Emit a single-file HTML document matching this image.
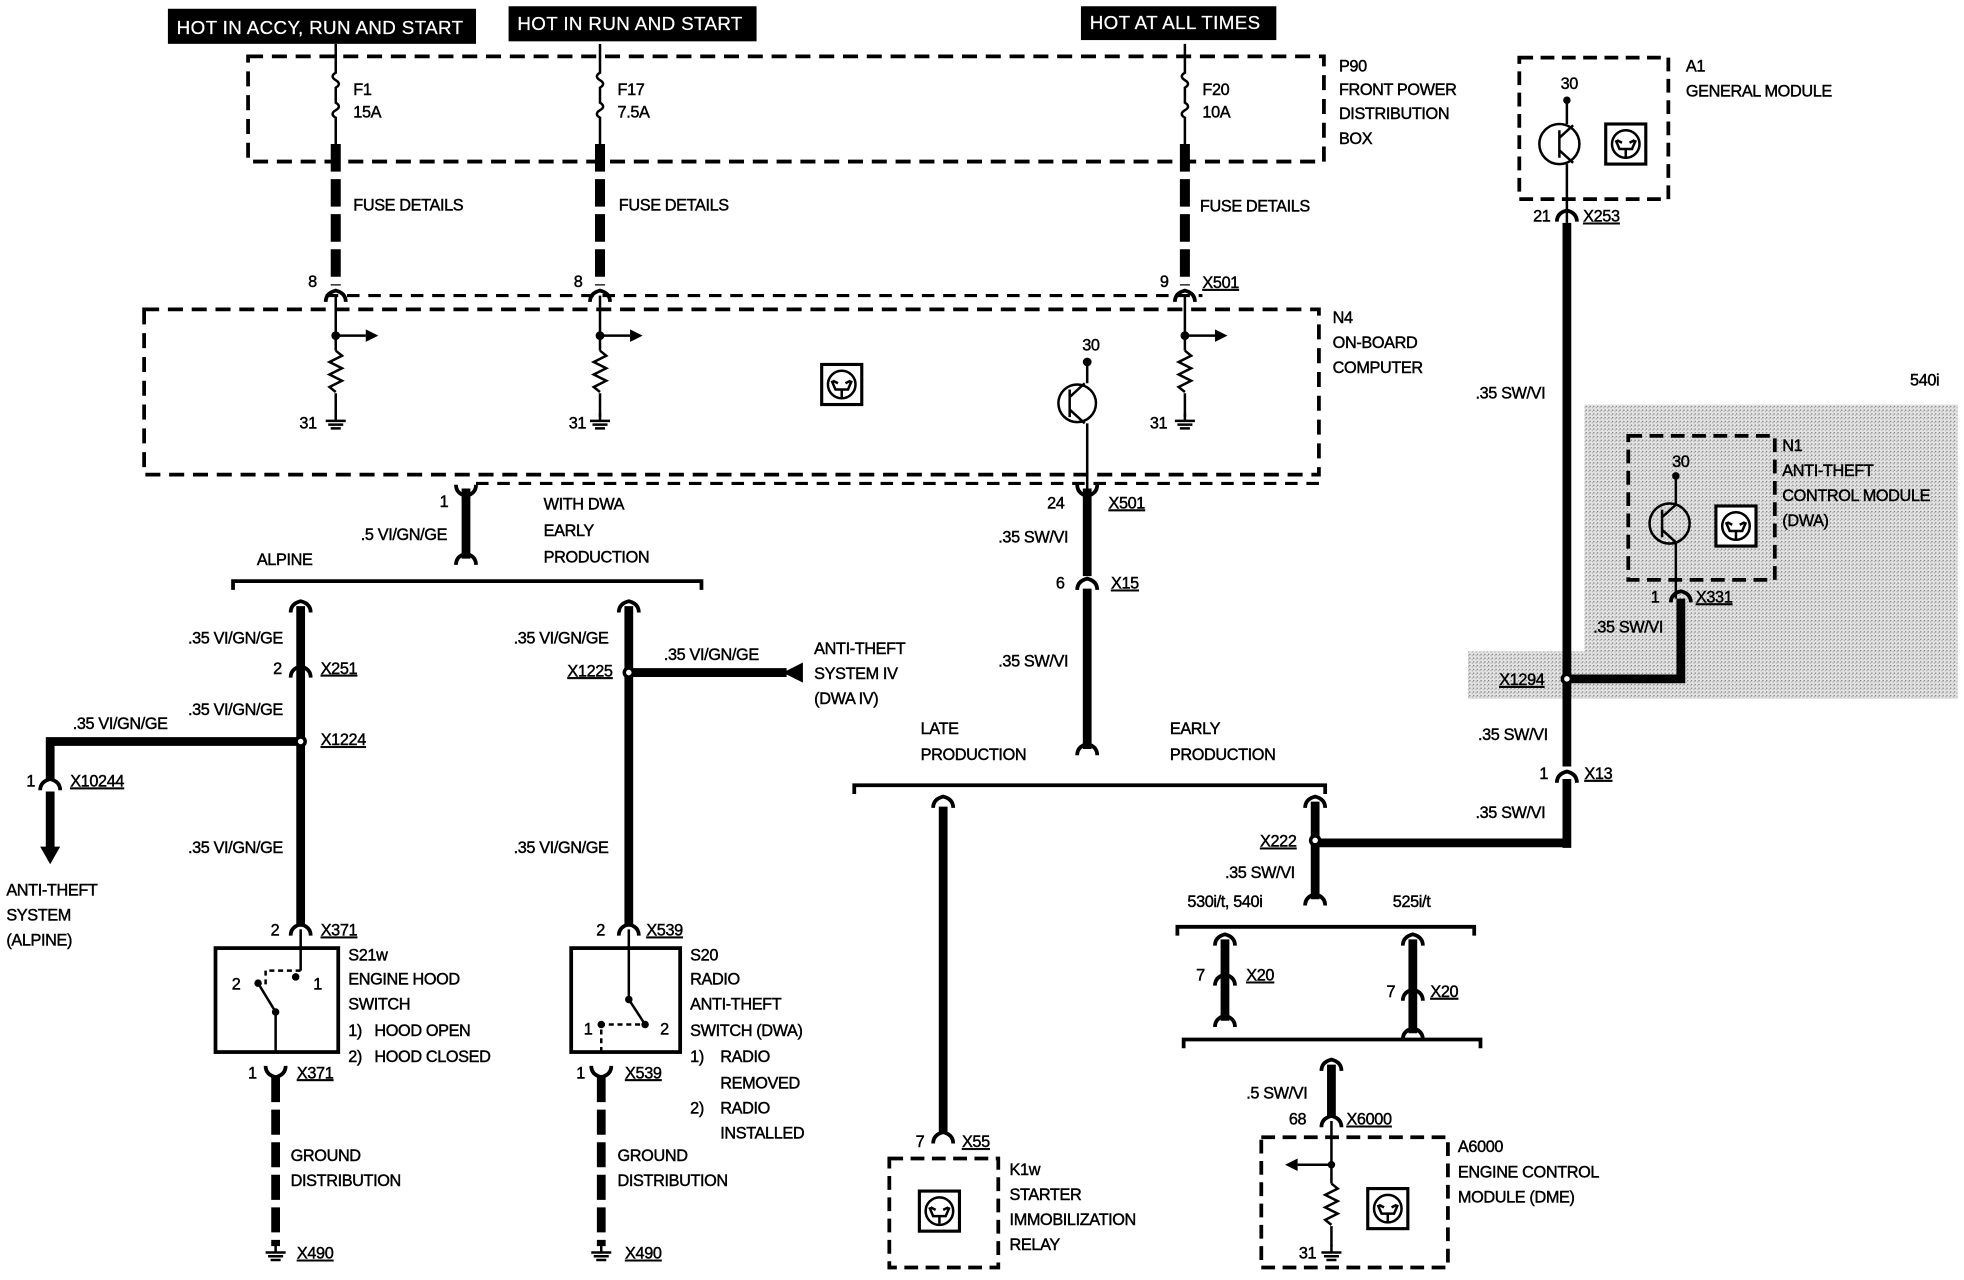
<!DOCTYPE html>
<html><head><meta charset="utf-8"><style>
html,body{margin:0;padding:0;background:#fff;}
svg{display:block}
text{font-family:"Liberation Sans",Arial,sans-serif;font-size:13px;fill:#000;stroke:#000;stroke-width:0.35px;letter-spacing:-0.3px}
.w{fill:#fff;stroke:#fff;stroke-width:0.2px;font-size:15px;letter-spacing:0.3px}
.u{text-decoration:underline}
</style></head><body>
<svg width="1964" height="1280" viewBox="0 0 1568 1022" xmlns="http://www.w3.org/2000/svg">
<defs>
<pattern id="dots" width="3" height="3" patternUnits="userSpaceOnUse"><rect width="3" height="3" fill="#e4e4e4"/><rect width="1" height="1" fill="#777"/><rect x="2" y="1" width="1" height="1" fill="#aaa"/></pattern>
<g id="icon"><rect x="-16" y="-16" width="32" height="32" fill="#fff" stroke="#000" stroke-width="2.5"/><circle r="11" fill="none" stroke="#000" stroke-width="2"/><path d="M-8 -3 L-5 4 L5 4 L8 -3 M0 4 V10 M-7 -3 L-3 -1 M7 -3 L3 -1" stroke="#000" stroke-width="2" fill="none"/></g>
<g id="gnd"><path d="M0 -6 V0 M-8 0 H8 M-6 3 H6 M-4 6 H4" stroke="#000" stroke-width="2" fill="none"/></g>
<g id="res"><path d="M0 0 l5 4 l-10 5 l10 5 l-10 5 l10 5 l-10 5 l5 4" stroke="#000" stroke-width="2" fill="none"/></g>
<g id="cup"><path d="M-8 5 Q-8 -2 0 -4 Q8 -2 8 5" stroke="#000" stroke-width="3" fill="none"/></g>
<g id="cdn"><path d="M-8 -5 Q-8 2 0 4 Q8 2 8 -5" stroke="#000" stroke-width="3" fill="none"/></g>
</defs>
<rect width="1568" height="1022" fill="#fff"/>
<path d="M1265 323 H1563 V558 H1172 V520 H1265 Z" fill="url(#dots)"/>
<text x="1525" y="308">540i</text>

<rect x="134" y="7" width="246" height="28" fill="#000"/><text class="w" x="141" y="27">HOT IN ACCY, RUN AND START</text>
<rect x="406" y="5" width="198" height="28" fill="#000"/><text class="w" x="413" y="24">HOT IN RUN AND START</text>
<rect x="863" y="5" width="156" height="27" fill="#000"/><text class="w" x="870" y="23">HOT AT ALL TIMES</text>

<g fill="none" stroke="#000">
<rect x="198" y="45" width="859" height="84" stroke-width="3" stroke-dasharray="12 7"/>
<rect x="115" y="247" width="938" height="132" stroke-width="3" stroke-dasharray="12 7"/>
<line x1="260" y1="236" x2="960" y2="236" stroke-width="2.5" stroke-dasharray="10 7"/>
<line x1="380" y1="386" x2="1053" y2="386" stroke-width="2.5" stroke-dasharray="10 7"/>
<g stroke-width="2">
<path d="M268 35 V58 q-5 3 0 6 q5 3 0 6 V82 q5 3 0 6 q-5 3 0 6 V115"/>
<path d="M479 35 V58 q-5 3 0 6 q5 3 0 6 V82 q5 3 0 6 q-5 3 0 6 V115"/>
<path d="M946 35 V58 q-5 3 0 6 q5 3 0 6 V82 q5 3 0 6 q-5 3 0 6 V115"/>
</g>
<g stroke-width="8">
<path d="M268 115 V228" stroke-dasharray="22 6"/>
<path d="M479 115 V228" stroke-dasharray="22 6"/>
<path d="M946 115 V228" stroke-dasharray="22 6"/>
</g>
<g stroke-width="2">
<path d="M268 236 V280 M268 314 V333 M268 268 H292"/>
<path d="M479 236 V280 M479 314 V333 M479 268 H503"/>
<path d="M946 236 V280 M946 314 V333 M946 268 H970"/>
<path d="M868 289 V306 M868 338 V390"/>
<circle cx="860" cy="322" r="15"/>
<path d="M854 311 V333 M854 317 L866 306 M854 327 L866 338"/>
</g>
</g>
<g fill="#000">
<path d="M292 263 L302 268 L292 273Z"/><path d="M503 263 L513 268 L503 273Z"/><path d="M970 263 L980 268 L970 273Z"/>
<circle cx="268" cy="268" r="3.5"/><circle cx="479" cy="268" r="3.5"/><circle cx="946" cy="268" r="3.5"/><circle cx="868" cy="289" r="3.5"/>
</g>
<use href="#res" x="268" y="280"/><use href="#res" x="479" y="280"/><use href="#res" x="946" y="280"/>
<use href="#gnd" x="268" y="336"/><use href="#gnd" x="479" y="336"/><use href="#gnd" x="946" y="336"/>
<use href="#cup" x="268" y="236"/><use href="#cup" x="479" y="236"/><use href="#cup" x="946" y="236"/>
<use href="#icon" x="672" y="307"/>

<text x="282" y="76">F1</text><text x="282" y="94">15A</text>
<text x="493" y="76">F17</text><text x="493" y="94">7.5A</text>
<text x="960" y="76">F20</text><text x="960" y="94">10A</text>
<text x="1069" y="57">P90</text><text x="1069" y="76">FRONT POWER</text><text x="1069" y="95">DISTRIBUTION</text><text x="1069" y="115">BOX</text>
<text x="282" y="168">FUSE DETAILS</text><text x="494" y="168">FUSE DETAILS</text><text x="958" y="169">FUSE DETAILS</text>
<text x="246" y="229">8</text><text x="458" y="229">8</text><text x="926" y="229">9</text><text class="u" x="960" y="230">X501</text>
<text x="1064" y="258">N4</text><text x="1064" y="278">ON-BOARD</text><text x="1064" y="298">COMPUTER</text>
<text x="239" y="342">31</text><text x="454" y="342">31</text><text x="918" y="342">31</text>
<text x="864" y="280">30</text>

<g fill="none" stroke="#000" stroke-width="7">
<path d="M372 390 V446"/>
<path d="M240 484 V740"/><path d="M240 592 H40 V622"/><path d="M40 632 V678"/>
<path d="M502 484 V740"/><path d="M502 537 H628"/>
<path d="M868 390 V460 M868 470 V598"/>
<path d="M753 644 V905"/>
<path d="M1050 640 V718"/><path d="M1050 673 H1251"/>
<path d="M978 750 V815"/><path d="M1128 750 V825"/>
<path d="M1063 850 V892"/>
<path d="M1251 178 V612 M1251 622 V677"/>
<path d="M1342 478 V542 H1251"/>
<path d="M220 860 V995" stroke-dasharray="20 6"/>
<path d="M480 860 V995" stroke-dasharray="20 6"/>
</g>
<path d="M32 676 L40 690 L48 676Z" fill="#000"/>
<path d="M625 537 L641 529 L641 545Z" fill="#000"/>
<g fill="#000"><circle cx="240" cy="592" r="5"/><circle cx="502" cy="537" r="5"/><circle cx="1050" cy="671" r="5"/><circle cx="1251" cy="542" r="5"/></g>
<g fill="#fff"><circle cx="240" cy="592" r="2.2"/><circle cx="502" cy="537" r="2.2"/><circle cx="1050" cy="671" r="2.2"/><circle cx="1251" cy="542" r="2.2"/></g>

<use href="#cdn" x="372" y="392"/><use href="#cup" x="372" y="446"/>
<use href="#cup" x="240" y="484"/><use href="#cup" x="502" y="484"/>
<use href="#cup" x="240" y="536"/><use href="#cup" x="40" y="626"/>
<use href="#cup" x="240" y="742"/><use href="#cup" x="502" y="742"/>
<use href="#cdn" x="220" y="856"/><use href="#cdn" x="480" y="856"/>
<use href="#cdn" x="868" y="392"/><use href="#cup" x="868" y="466"/><use href="#cup" x="868" y="598"/>
<use href="#cup" x="753" y="640"/><use href="#cup" x="753" y="908"/>
<use href="#cup" x="1050" y="640"/><use href="#cup" x="1050" y="718"/>
<use href="#cup" x="978" y="750"/><use href="#cup" x="978" y="782"/><use href="#cup" x="978" y="815"/>
<use href="#cup" x="1128" y="750"/><use href="#cup" x="1128" y="794"/><use href="#cup" x="1128" y="825"/>
<use href="#cup" x="1063" y="850"/><use href="#cup" x="1063" y="895"/>
<use href="#cup" x="1251" y="172"/><use href="#cup" x="1251" y="620"/><use href="#cup" x="1342" y="476"/>

<g fill="none" stroke="#000" stroke-width="3">
<path d="M186 471 V464 H560 V471"/><path d="M682 634 V627 H1058 V634"/>
<path d="M940 747 V740 H1177 V747"/><path d="M945 837 V830 H1182 V837"/>
</g>

<g fill="none" stroke="#000" stroke-width="3">
<rect x="172" y="757" width="98" height="83"/><rect x="456" y="757" width="87" height="83"/>
</g>
<g fill="none" stroke="#000" stroke-width="2">
<path d="M240 742 V775"/><path d="M220 840 V808 L206 785"/><path d="M240 775 H212 V788" stroke-dasharray="4 3"/>
<path d="M502 742 V798 L515 818"/><path d="M480 840 V818 H515" stroke-dasharray="4 3"/>
</g>
<g fill="#000"><circle cx="206" cy="785" r="3"/><circle cx="236" cy="780" r="3"/><circle cx="220" cy="808" r="3"/><circle cx="480" cy="818" r="3"/><circle cx="515" cy="818" r="3"/><circle cx="502" cy="798" r="3"/></g>
<use href="#gnd" x="220" y="1000"/><use href="#gnd" x="480" y="1000"/>

<g fill="none" stroke="#000" stroke-width="3" stroke-dasharray="11 6">
<rect x="710" y="925" width="87" height="87"/><rect x="1007" y="908" width="149" height="104"/>
<rect x="1213" y="46" width="119" height="113"/><rect x="1300" y="348" width="117" height="115"/>
</g>
<use href="#icon" x="750" y="967"/><use href="#icon" x="1108" y="965"/><use href="#icon" x="1298" y="115"/><use href="#icon" x="1386" y="420"/>
<g fill="none" stroke="#000" stroke-width="2">
<path d="M1063 895 V945 M1063 979 V995 M1063 930 H1036"/>
<path d="M1251 80 V99 M1251 131 V178 M1245 104 V126 M1245 110 L1256 100 M1245 120 L1256 130"/><circle cx="1245" cy="115" r="16"/>
<path d="M1338 380 V402 M1338 434 V478 M1327 407 V429 M1327 413 L1338 403 M1327 423 L1338 433"/><circle cx="1333" cy="418" r="16"/>
</g>
<path d="M1036 925 L1026 930 L1036 935Z" fill="#000"/>
<circle cx="1063" cy="930" r="3" fill="#000"/><circle cx="1251" cy="80" r="3" fill="#000"/><circle cx="1338" cy="380" r="3" fill="#000"/>
<use href="#res" x="1063" y="945"/><use href="#gnd" x="1063" y="1000"/>

<text x="351" y="405">1</text><text x="288" y="431">.5 VI/GN/GE</text>
<text x="434" y="407">WITH DWA</text><text x="434" y="428">EARLY</text><text x="434" y="449">PRODUCTION</text>
<text x="205" y="451">ALPINE</text>
<text x="150" y="514">.35 VI/GN/GE</text><text x="218" y="538">2</text><text class="u" x="256" y="538">X251</text>
<text x="150" y="571">.35 VI/GN/GE</text><text class="u" x="256" y="595">X1224</text>
<text x="58" y="582">.35 VI/GN/GE</text><text x="21" y="628">1</text><text class="u" x="56" y="628">X10244</text>
<text x="5" y="715">ANTI-THEFT</text><text x="5" y="735">SYSTEM</text><text x="5" y="755">(ALPINE)</text>
<text x="150" y="681">.35 VI/GN/GE</text><text x="216" y="747">2</text><text class="u" x="256" y="747">X371</text>
<text x="185" y="790">2</text><text x="250" y="790">1</text>
<text x="278" y="767">S21w</text><text x="278" y="786">ENGINE HOOD</text><text x="278" y="806">SWITCH</text><text x="278" y="827">1)&#160;&#160; HOOD OPEN</text><text x="278" y="848">2)&#160;&#160; HOOD CLOSED</text>
<text x="198" y="861">1</text><text class="u" x="237" y="861">X371</text>
<text x="232" y="927">GROUND</text><text x="232" y="947">DISTRIBUTION</text><text class="u" x="237" y="1005">X490</text>
<text x="410" y="514">.35 VI/GN/GE</text><text class="u" x="453" y="540">X1225</text><text x="530" y="527">.35 VI/GN/GE</text>
<text x="650" y="522">ANTI-THEFT</text><text x="650" y="542">SYSTEM IV</text><text x="650" y="562">(DWA IV)</text>
<text x="410" y="681">.35 VI/GN/GE</text><text x="476" y="747">2</text><text class="u" x="516" y="747">X539</text>
<text x="466" y="826">1</text><text x="527" y="826">2</text>
<text x="551" y="767">S20</text><text x="551" y="786">RADIO</text><text x="551" y="806">ANTI-THEFT</text><text x="551" y="827">SWITCH (DWA)</text>
<text x="551" y="848">1)</text><text x="575" y="848">RADIO</text><text x="575" y="869">REMOVED</text><text x="551" y="889">2)</text><text x="575" y="889">RADIO</text><text x="575" y="909">INSTALLED</text>
<text x="460" y="861">1</text><text class="u" x="499" y="861">X539</text>
<text x="493" y="927">GROUND</text><text x="493" y="947">DISTRIBUTION</text><text class="u" x="499" y="1005">X490</text>
<text x="836" y="406">24</text><text class="u" x="885" y="406">X501</text><text x="797" y="433">.35 SW/VI</text>
<text x="843" y="470">6</text><text class="u" x="887" y="470">X15</text><text x="797" y="532">.35 SW/VI</text>
<text x="735" y="586">LATE</text><text x="735" y="607">PRODUCTION</text><text x="934" y="586">EARLY</text><text x="934" y="607">PRODUCTION</text>
<text x="731" y="916">7</text><text class="u" x="768" y="916">X55</text>
<text x="806" y="938">K1w</text><text x="806" y="958">STARTER</text><text x="806" y="978">IMMOBILIZATION</text><text x="806" y="998">RELAY</text>
<text class="u" x="1006" y="676">X222</text><text x="978" y="701">.35 SW/VI</text>
<text x="948" y="724">530i/t, 540i</text><text x="1112" y="724">525i/t</text>
<text x="955" y="783">7</text><text class="u" x="995" y="783">X20</text><text x="1107" y="796">7</text><text class="u" x="1142" y="796">X20</text>
<text x="995" y="877">.5 SW/VI</text><text x="1029" y="898">68</text><text class="u" x="1075" y="898">X6000</text>
<text x="1164" y="920">A6000</text><text x="1164" y="940">ENGINE CONTROL</text><text x="1164" y="960">MODULE (DME)</text>
<text x="1037" y="1005">31</text>
<text x="1246" y="71">30</text><text x="1346" y="57">A1</text><text x="1346" y="77">GENERAL MODULE</text>
<text x="1224" y="177">21</text><text class="u" x="1264" y="177">X253</text><text x="1178" y="318">.35 SW/VI</text>
<text x="1335" y="373">30</text><text x="1423" y="360">N1</text><text x="1423" y="380">ANTI-THEFT</text><text x="1423" y="400">CONTROL MODULE</text><text x="1423" y="420">(DWA)</text>
<text x="1318" y="481">1</text><text class="u" x="1354" y="481">X331</text><text x="1272" y="505">.35 SW/VI</text>
<text class="u" x="1197" y="547">X1294</text><text x="1180" y="591">.35 SW/VI</text>
<text x="1229" y="622">1</text><text class="u" x="1265" y="622">X13</text><text x="1178" y="653">.35 SW/VI</text>
</svg>
</body></html>
